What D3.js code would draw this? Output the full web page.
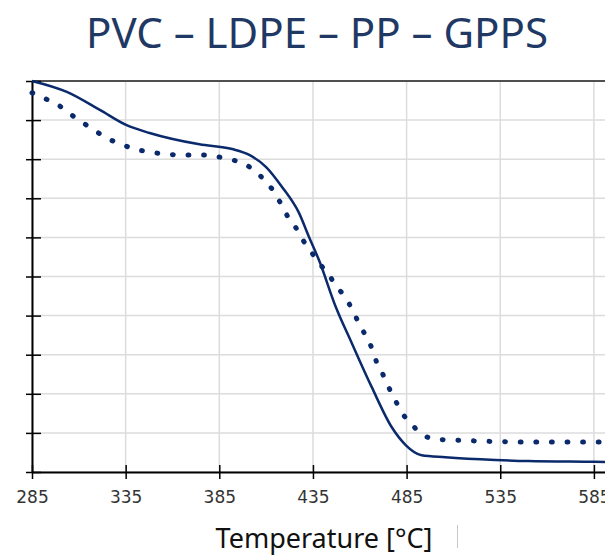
<!DOCTYPE html>
<style>
  body { margin: 0; background: #fff; }
  .grid line { stroke: #dcdcdc; stroke-width: 1.5; }
  .xaxis text { font-family: "DejaVu Sans", sans-serif; font-size: 17px; fill: #333; }
</style>
<svg width="605" height="559"></svg>
<script src="https://cdn.jsdelivr.net/npm/d3@7"></script>
<script>

// solid curve
var tempSolid = [285, 303.6, 321.2, 335.5, 347.8, 374.4, 391.9, 401, 410, 418.5, 427.6, 432.9, 438.2, 447.2, 455.7, 466.4, 477, 484.5, 493, 505.7, 532.3, 549.9, 585.5, 600];
var massSolid = [100, 97.2, 92.6, 88.7, 86.7, 83.8, 82.6, 81.1, 78.0, 72.9, 66.2, 60.1, 54.2, 42.2, 33.0, 21.7, 11.5, 6.9, 4.3, 3.8, 3.1, 2.8, 2.6, 2.5];

// dotted curve
var tempDotted = [285, 290.9, 298.3, 304.7, 311.6, 318, 324.9, 332.3, 339.8, 348.3, 356.3, 364.8, 374.4, 389.3, 397.2, 404.1, 409.5, 414.3, 418, 421.7, 426, 429.7, 434.5, 438.7, 443.5, 447.8, 452.6, 456.3, 459.5, 463.2, 466.4, 469, 472.2, 475.4, 478.6, 482.3, 487.1, 492.4, 499.9, 508.4, 524.9, 541.9, 566.9, 583.9, 600];
var massDotted = [97, 95.7, 94.1, 91.8, 89.5, 87.5, 85.4, 83.9, 82.6, 81.8, 81.3, 81.1, 81.1, 80.1, 79.0, 77.0, 74.4, 71.6, 68.5, 65.2, 62.4, 59.3, 56.0, 53.2, 50.4, 47.3, 44.5, 41.2, 38.1, 34.8, 31.7, 28.1, 25.1, 21.7, 18.7, 15.3, 12.5, 10.0, 8.4, 8.2, 7.9, 7.7, 7.7, 7.7, 7.7];

var xTicks = [285, 335, 385, 435, 485, 535, 585];
var yTicks = [0, 10, 20, 30, 40, 50, 60, 70, 80, 90, 100];

var svg = d3.select("svg"),
    margin = {top: 81, right: 0, bottom: 87, left: 32},
    width = 590,
    height = +svg.attr("height") - margin.top - margin.bottom,
    g = svg.append("g").attr("transform", "translate(" + margin.left + "," + margin.top + ")");

svg.insert("rect", ":first-child").attr("width", 605).attr("height", 559).attr("fill", "#fff");

var x = d3.scaleLinear().domain([285, 600]).range([0, width]);
var y = d3.scaleLinear().domain([0, 100]).range([height, 0]);

// grid
g.append("g").attr("class", "grid")
  .selectAll("line").data(xTicks).enter().append("line")
    .attr("x1", function(d) { return x(d); }).attr("x2", function(d) { return x(d); })
    .attr("y1", 0).attr("y2", height);

g.append("g").attr("class", "grid")
  .selectAll("line").data(yTicks).enter().append("line")
    .attr("x1", 0).attr("x2", width)
    .attr("y1", function(d) { return y(d); }).attr("y2", function(d) { return y(d); });

// top border
g.append("line")
    .attr("x1", 0).attr("x2", width)
    .attr("y1", y(100)).attr("y2", y(100))
    .attr("stroke", "#505050").attr("stroke-width", 2);

// axes
var yAxis = g.append("g")
    .call(d3.axisLeft(y).tickValues(yTicks).tickFormat("").tickSizeOuter(0));
yAxis.select(".domain").attr("stroke", "#000").attr("stroke-width", 2);
yAxis.selectAll(".tick line").attr("x1", 9).attr("x2", -6).attr("stroke", "#000").attr("stroke-width", 1.5);

var xAxis = g.append("g")
    .attr("class", "xaxis")
    .attr("transform", "translate(0," + height + ")")
    .call(d3.axisBottom(x).tickValues(xTicks).tickFormat(d3.format("d")).tickSizeOuter(0).tickPadding(13));
xAxis.select(".domain").attr("stroke", "#000").attr("stroke-width", 2);
xAxis.selectAll(".tick line").attr("y1", -7).attr("y2", 7).attr("stroke", "#000").attr("stroke-width", 1.5);

// lines
var solidLine = d3.line()
    .curve(d3.curveMonotoneX)
    .x(function(d, i) { return x(tempSolid[i]); })
    .y(function(d) { return y(d); });

var dottedLine = d3.line()
    .curve(d3.curveMonotoneX)
    .x(function(d, i) { return x(tempDotted[i]); })
    .y(function(d) { return y(d); });

g.append("path")
    .datum(massDotted)
    .attr("fill", "none")
    .attr("stroke", "#0a2a6b")
    .attr("stroke-width", 5)
    .attr("stroke-linecap", "round")
    .attr("stroke-dasharray", "0.8 14.8")
    .attr("d", dottedLine);

g.append("path")
    .datum(massSolid)
    .attr("fill", "none")
    .attr("stroke", "#0a2a6b")
    .attr("stroke-linejoin", "round")
    .attr("stroke-width", 2.5)
    .attr("d", solidLine);

// titles
svg.append("text")
    .attr("x", 317).attr("y", 48)
    .attr("text-anchor", "middle")
    .style("font-family", "'Noto Sans', sans-serif")
    .style("font-size", "42px")
    .style("fill", "#1f3864")
    .text("PVC – LDPE – PP – GPPS");

svg.append("text")
    .attr("x", 324).attr("y", 548)
    .attr("text-anchor", "middle")
    .style("font-family", "'Noto Sans', sans-serif")
    .style("font-size", "27px")
    .style("fill", "#111")
    .text("Temperature [°C]");

svg.append("line")
    .attr("x1", 457.5).attr("x2", 457.5).attr("y1", 525).attr("y2", 548)
    .attr("stroke", "#c8c8c8").attr("stroke-width", 1);

</script>
